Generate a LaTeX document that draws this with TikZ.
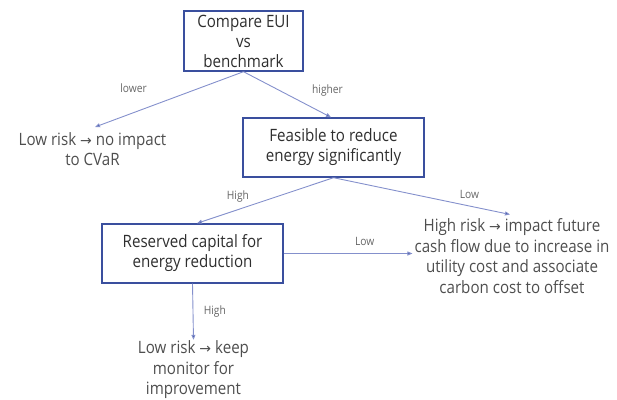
\documentclass[tikz,border=0pt]{standalone}
\usepackage{fontspec}
\setmainfont{Open Sans}[FakeStretch=0.89]
\newfontfamily\arrowfont{DejaVu Sans}
\usepackage{xcolor}
\usetikzlibrary{positioning,calc,arrows.meta}

\definecolor{boxblue}{HTML}{3A4F9E}
\definecolor{linkblue}{HTML}{8490CC}
\definecolor{boxtext}{HTML}{2E2E2E}
\definecolor{outtext}{HTML}{4E4E4E}
\definecolor{lbltext}{HTML}{666666}
\newcommand{\rarr}{{\arrowfont\fontsize{14pt}{14pt}\selectfont →}}

\begin{document}
\begin{tikzpicture}[x=1pt, y=-1pt,
    decision/.style={draw=boxblue, line width=1.4pt, text=boxtext, align=center,
        font=\fontsize{17pt}{20pt}\selectfont, inner sep=0pt},
    outcome/.style={text=outtext, align=center, font=\fontsize{17pt}{20.5pt}\selectfont, inner sep=1pt},
    link/.style={draw=linkblue, line width=0.9pt, -{Triangle[length=5pt,width=4pt,fill=boxblue]}},
    lbl/.style={text=lbltext, font=\fontsize{11.5pt}{13pt}\selectfont}]
    \useasboundingbox (0,0) rectangle (617,399);

    % decision boxes
    \node[decision, minimum width=119pt, minimum height=60pt] (eui) at (243.5,41) {Compare EUI\\vs\\benchmark};
    \node[decision, minimum width=181pt, minimum height=59pt] (feasible) at (333.5,147.5) {Feasible to reduce\\energy significantly};
    \node[decision, minimum width=181pt, minimum height=59pt] (capital) at (192.5,253.5) {Reserved capital for\\energy reduction};

    % outcomes
    \node[outcome] (nocvar) at (92.5,149) {Low risk \rarr{} no impact\\to CVaR};
    \node[outcome] (highrisk) at (512,256) {High risk \rarr{} impact future\\cash flow due to increase in\\utility cost and associate\\carbon cost to offset};
    \node[outcome] (monitor) at (193.5,370) {Low risk \rarr{} keep\\monitor for\\improvement};

    % connectors
    \draw[link] (eui.south) -- ([xshift=2.5pt,yshift=4pt]nocvar.north) node[lbl, pos=.74, yshift=24pt] {lower};
    \draw[link] (eui.south) -- ([xshift=-2.5pt]feasible.north) node[lbl, pos=.96, yshift=25pt] {higher};
    \draw[link] (feasible.south) -- ([xshift=4.5pt]capital.north) node[lbl, pos=.7, yshift=13pt] {High};
    \draw[link] (feasible.south) -- ([xshift=-2pt,yshift=3pt]highrisk.north) node[lbl, pos=.77, yshift=12pt] {Low};
    \draw[link] (capital.east) -- ($(capital.east -| highrisk.west)+(-1,0)$) node[lbl, pos=.63, yshift=12pt] {Low};
    \draw[link] (capital.south) -- (monitor.north) node[lbl, pos=.5, right=7pt] {High};
\end{tikzpicture}
\end{document}
